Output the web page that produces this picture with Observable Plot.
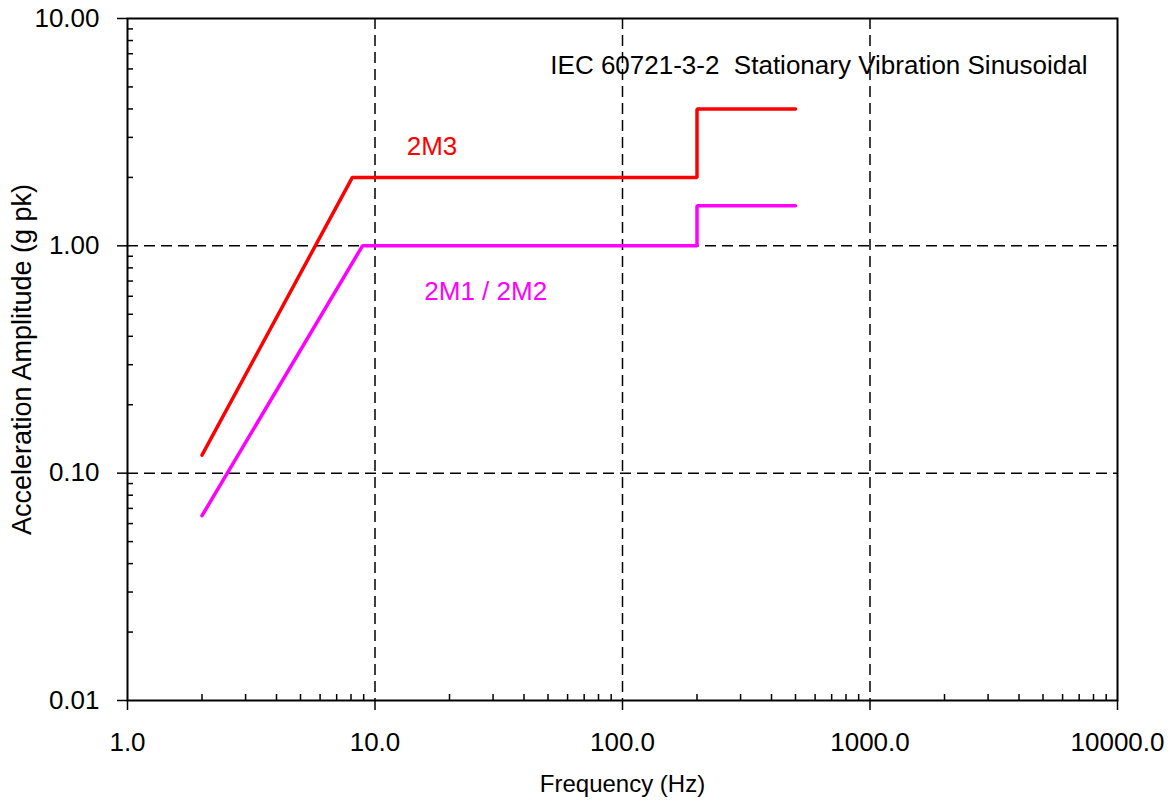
<!DOCTYPE html>
<html><head><meta charset="utf-8">
<script src="https://cdn.jsdelivr.net/npm/d3@7"></script>
<script src="https://cdn.jsdelivr.net/npm/@observablehq/plot@0.6"></script>
<style>html,body{margin:0;padding:0;background:#fff} #chart svg{display:block}</style>
</head><body><div id="chart"></div>
<script>
// Series: IEC 60721-3-2 stationary vibration, sinusoidal
const freq2M3 = [2, 8.1, 200, 200, 500];
const acc2M3  = [0.12, 2.0, 2.0, 4.0, 4.0];
const freq2M1 = [2, 8.9, 200, 200, 500];
const acc2M1  = [0.065, 1.0, 1.0, 1.5, 1.5];
const seriesNames  = ["2M3", "2M1 / 2M2"];
const seriesColors = ["#ff0000", "#ff00ff"];
const labelFreq = [17, 28];
const labelAcc  = [2.73, 0.63];
const xTicks = [1, 10, 100, 1000, 10000];
const yTicks = [0.01, 0.1, 1, 10];
const titleText = "IEC 60721-3-2  Stationary Vibration Sinusoidal";
const xTitle = "Frequency (Hz)";
const yTitle = "Acceleration Amplitude (g pk)";

const series = [
  {name: seriesNames[0], color: seriesColors[0], f: freq2M3, a: acc2M3},
  {name: seriesNames[1], color: seriesColors[1], f: freq2M1, a: acc2M1}
];
const rows = series.flatMap(s => s.f.map((f, i) => ({name: s.name, f, a: s.a[i]})));
const labels = seriesNames.map((n, i) => ({name: n, f: labelFreq[i], a: labelAcc[i]}));
const minorOf = ticks => ticks.slice(0, -1).flatMap(t => [2,3,4,5,6,7,8,9].map(k => k * t));
const xMinor = minorOf(xTicks);
const yMinor = minorOf(yTicks);

const dash = {stroke: "#000", strokeWidth: 1.5, strokeDasharray: "11,6"};

const chart = Plot.plot({
  width: 1170, height: 805,
  marginLeft: 127, marginRight: 53, marginTop: 18, marginBottom: 105,
  style: {fontFamily: "'Liberation Sans', Arial, sans-serif", fontSize: "26px", color: "#000", background: "#fff"},
  x: {type: "log", domain: [1, 10000]},
  y: {type: "log", domain: [0.01, 10]},
  color: {domain: seriesNames, range: seriesColors},
  marks: [
    Plot.ruleX(xTicks.slice(1, -1), dash),
    Plot.ruleY(yTicks.slice(1, -1), dash),
    Plot.line(rows, {x: "f", y: "a", z: "name", stroke: "name", strokeWidth: 3.5, strokeLinejoin: "miter", strokeLinecap: "round"}),
    Plot.text(labels, {x: "f", y: "a", text: "name", fill: "name", fontSize: 26, textAnchor: "middle"}),
    Plot.frame({stroke: "#000", strokeWidth: 2}),
    Plot.axisX(xTicks, {tickSize: 10, tickPadding: 22, strokeWidth: 1.5, tickFormat: d => d.toFixed(1), label: null, fontSize: 26}),
    Plot.axisY(yTicks, {tickSize: 10, tickPadding: 18, strokeWidth: 1.5, tickFormat: d => d.toFixed(2), label: null, fontSize: 26}),
    Plot.axisX(xMinor, {tickSize: -6, strokeWidth: 1.5, tickFormat: () => "", label: null}),
    Plot.axisY(yMinor, {tickSize: -6, strokeWidth: 1.5, tickFormat: () => "", label: null}),
    Plot.text([titleText], {frameAnchor: "top-right", dx: -30, dy: 47, textAnchor: "end", lineAnchor: "middle", fontSize: 26}),
    Plot.text([xTitle], {frameAnchor: "bottom", dy: 84, textAnchor: "middle", lineAnchor: "middle", fontSize: 24}),
    Plot.text([yTitle], {frameAnchor: "left", dx: -105, rotate: -90, textAnchor: "middle", lineAnchor: "middle", fontSize: 27})
  ]
});
document.getElementById("chart").appendChild(chart);
</script>
</body></html>
